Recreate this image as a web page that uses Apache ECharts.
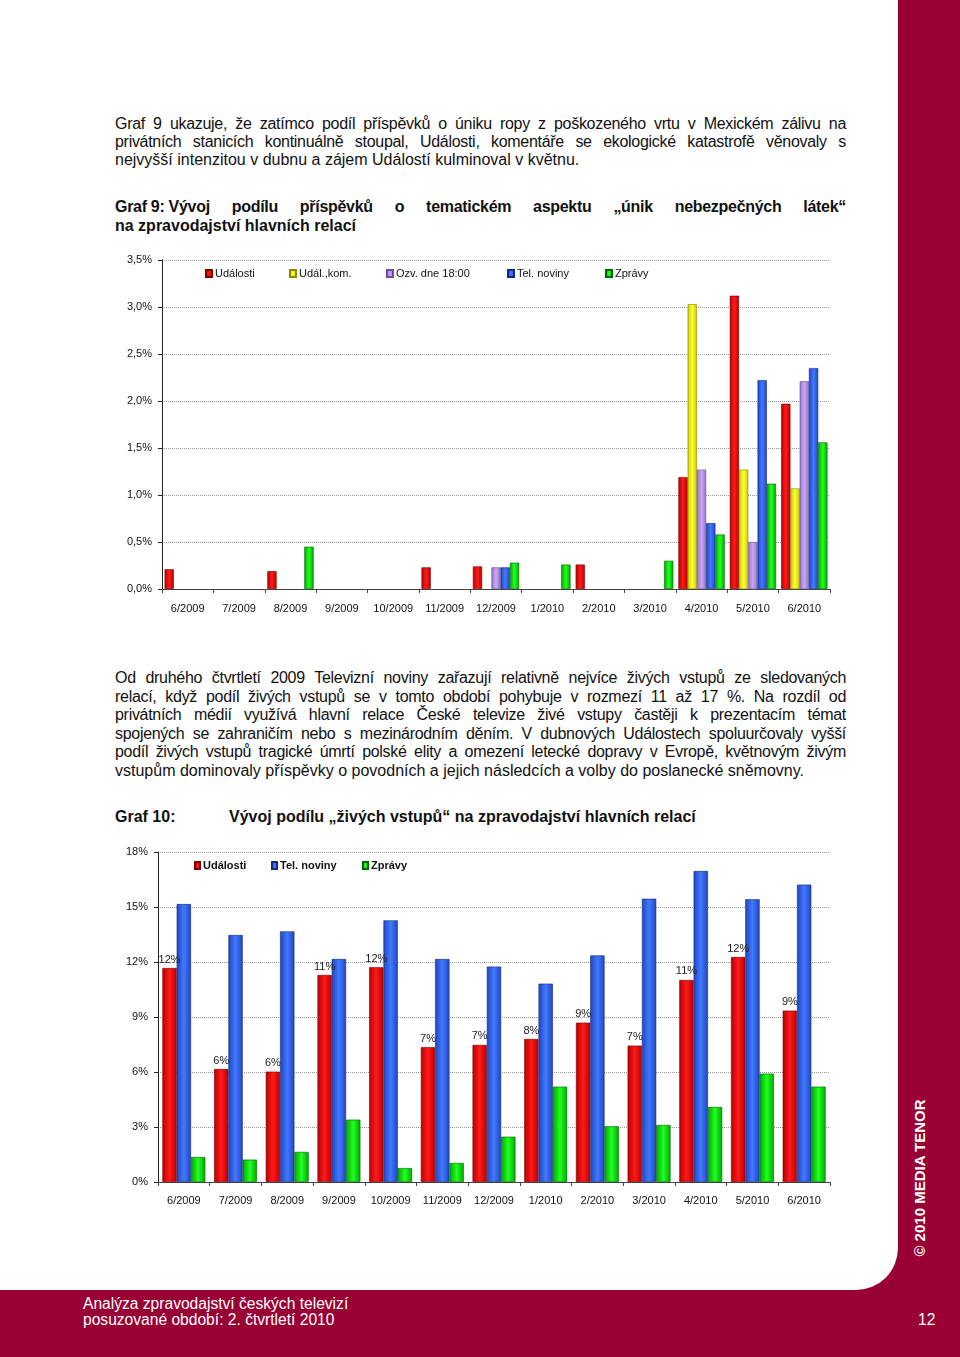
<!DOCTYPE html>
<html><head><meta charset="utf-8">
<script src="https://cdn.jsdelivr.net/npm/echarts@6/dist/echarts.min.js"></script>
<style>
html,body{margin:0;padding:0;}
body{width:960px;height:1357px;position:relative;background:#990033;overflow:hidden;font-family:Arial,"Liberation Sans",sans-serif;}
#page{position:absolute;left:0;top:0;width:898px;height:1290px;background:#fff;border-bottom-right-radius:42px;}
.ln{position:absolute;left:115px;width:731px;font-size:16px;line-height:18px;color:#111;white-space:nowrap;}
.j{text-align:justify;text-align-last:justify;white-space:normal;letter-spacing:-0.3px;}
.b{font-weight:bold;}
.nb{display:inline-block;white-space:nowrap;text-align:left;text-align-last:left;}
#c1{position:absolute;left:0;top:240px;width:898px;height:390px;}
#c2{position:absolute;left:0;top:835px;width:898px;height:380px;}
.foot{position:absolute;color:#fff;font-family:Arial,"Liberation Sans",sans-serif;font-size:15.6px;line-height:16px;}
#copy{position:absolute;left:919px;top:1178px;transform:translate(-50%,-50%) rotate(-90deg);white-space:nowrap;color:#fff;font-family:Arial,"Liberation Sans",sans-serif;font-weight:bold;font-size:15px;}
</style></head>
<body>
<div id="page"></div>
<div class="ln j" style="top:115px">Graf 9 ukazuje, že zatímco podíl příspěvků o úniku ropy z poškozeného vrtu v Mexickém zálivu na</div>
<div class="ln j" style="top:133px">privátních stanicích kontinuálně stoupal, Události, komentáře se ekologické katastrofě věnovaly s</div>
<div class="ln" style="top:151px">nejvyšší intenzitou v dubnu a zájem Událostí kulminoval v květnu.</div>
<div class="ln j b" style="top:198px"><span class="nb">Graf 9: Vývoj</span> podílu příspěvků o tematickém aspektu „únik nebezpečných látek“</div>
<div class="ln b" style="top:217px">na zpravodajství hlavních relací</div>
<div id="c1"></div>
<div class="ln j" style="top:669px">Od druhého čtvrtletí 2009 Televizní noviny zařazují relativně nejvíce živých vstupů ze sledovaných</div>
<div class="ln j" style="top:688px">relací, když podíl živých vstupů se v tomto období pohybuje v rozmezí 11 až 17 %. Na rozdíl od</div>
<div class="ln j" style="top:706px">privátních médií využívá hlavní relace České televize živé vstupy častěji k prezentacím témat</div>
<div class="ln j" style="top:725px">spojených se zahraničím nebo s mezinárodním děním. V dubnových Událostech spoluurčovaly vyšší</div>
<div class="ln j" style="top:743px">podíl živých vstupů tragické úmrtí polské elity a omezení letecké dopravy v Evropě, květnovým živým</div>
<div class="ln" style="top:762px">vstupům dominovaly příspěvky o povodních a jejich následcích a volby do poslanecké sněmovny.</div>
<div class="ln b" style="top:808px">Graf 10:</div>
<div class="ln b" style="top:808px;left:229px;width:auto">Vývoj podílu „živých vstupů“ na zpravodajství hlavních relací</div>
<div id="c2"></div>
<div class="foot" style="left:83px;top:1296px">Analýza zpravodajství českých televizí</div>
<div class="foot" style="left:83px;top:1312px">posuzované období: 2. čtvrtletí 2010</div>
<div class="foot" style="left:918px;top:1312px">12</div>
<div id="copy">© 2010 MEDIA TENOR</div>
<script>
// ---- data ----
var categories = ['6/2009','7/2009','8/2009','9/2009','10/2009','11/2009','12/2009','1/2010','2/2010','3/2010','4/2010','5/2010','6/2010'];
// Graf 9 (%)
var udalosti1 = [0.21,0,0.19,0,0,0.23,0.24,0,0.26,0,1.19,3.12,1.97];
var udalKom1  = [0,0,0,0,0,0,0,0,0,0,3.03,1.27,1.07];
var ozvDne1   = [0,0,0,0,0,0,0.23,0,0,0,1.27,0.50,2.21];
var telNov1   = [0,0,0,0,0,0,0.23,0,0,0,0.70,2.22,2.35];
var zpravy1   = [0,0,0.45,0,0,0,0.28,0.26,0,0.30,0.58,1.12,1.56];
// Graf 10 (%)
var udalosti2 = [11.67,6.16,6.02,11.29,11.71,7.35,7.48,7.80,8.69,7.44,11.02,12.27,9.35];
var telNov2   = [15.16,13.47,13.67,12.16,14.27,12.16,11.75,10.82,12.36,15.45,16.96,15.42,16.22];
var zpravy2   = [1.36,1.22,1.64,3.40,0.76,1.04,2.47,5.20,3.04,3.11,4.09,5.91,5.20];

function grad(dark, light){
  return new echarts.graphic.LinearGradient(0,0,1,0,[
    {offset:0,color:dark},{offset:0.5,color:light},{offset:1,color:dark}]);
}
var C = {
  red: grad('#b80000','#ff1a1a'),
  yellow: grad('#c8c800','#ffff33'),
  purple: grad('#9070c4','#c9aaf2'),
  blue: grad('#1f45c0','#4279ff'),
  green: grad('#00a800','#22ff22')
};
var B = {red:'#7a0000',yellow:'#8a8a00',purple:'#6a50a0',blue:'#102a80',green:'#006600'};
var txt = {fontFamily:'Arial, "Liberation Sans", sans-serif', fontSize:11, color:'#111'};

function bar(name, data, key, extra){
  var items = data.map(function(v){
    return v === 0 ? {value:v, itemStyle:{borderWidth:0}} : v;
  });
  var s = {name:name, type:'bar', data:items, barGap:0,
    itemStyle:{color:C[key], borderColor:B[key], borderWidth:0.6},
    emphasis:{disabled:true}};
  for (var k in extra) s[k]=extra[k];
  return s;
}
function leg(name, left, top, bold, iw){
  return {data:[name], left:left, top:top, padding:0, itemWidth:iw, itemHeight:7, itemGap:0,
    icon:'rect', selectedMode:false,
    textStyle:{fontFamily:'Arial, "Liberation Sans", sans-serif', fontSize:11, color:'#111', fontWeight:bold?'bold':'normal', padding:[0,0,0,-2]}};
}

var ch1 = echarts.init(document.getElementById('c1'), null, {renderer:'canvas'});
ch1.setOption({
  animation:false,
  grid:{left:162, top:20, width:668, height:329, containLabel:false},
  legend:[
    leg('Události',205,28,false,6),
    leg('Udál.,kom.',289,28,false,6),
    leg('Ozv. dne 18:00',386,28,false,6),
    leg('Tel. noviny',507,28,false,6),
    leg('Zprávy',605,28,false,6)
  ],
  xAxis:{type:'category', data:categories,
    axisLine:{lineStyle:{color:'#444',width:1}},
    axisTick:{show:true,length:4,lineStyle:{color:'#444'}},
    axisLabel:Object.assign({margin:14, interval:0}, txt),
    splitLine:{show:false}},
  yAxis:{type:'value', min:0, max:3.5, interval:0.5,
    axisLine:{show:true, lineStyle:{color:'#222',width:1}},
    axisTick:{show:true,length:4,lineStyle:{color:'#222'}},
    axisLabel:Object.assign({margin:10, formatter:function(v){return v.toFixed(1).replace('.',',')+'%';}}, txt),
    splitLine:{show:true, lineStyle:{type:'dotted', color:'#999', width:1}}},
  series:[
    bar('Události', udalosti1, 'red', {barCategoryGap:'10%'}),
    bar('Udál.,kom.', udalKom1, 'yellow', {}),
    bar('Ozv. dne 18:00', ozvDne1, 'purple', {}),
    bar('Tel. noviny', telNov1, 'blue', {}),
    bar('Zprávy', zpravy1, 'green', {})
  ]
});

var ch2 = echarts.init(document.getElementById('c2'), null, {renderer:'canvas'});
ch2.setOption({
  animation:false,
  grid:{left:158, top:17, width:672, height:330, containLabel:false},
  legend:[
    leg('Události',194,25,true,5),
    leg('Tel. noviny',271,25,true,5),
    leg('Zprávy',362,25,true,5)
  ],
  xAxis:{type:'category', data:categories,
    axisLine:{lineStyle:{color:'#444',width:1}},
    axisTick:{show:true,length:4,lineStyle:{color:'#444'}},
    axisLabel:Object.assign({margin:13, interval:0}, txt),
    splitLine:{show:false}},
  yAxis:{type:'value', min:0, max:18, interval:3,
    axisLine:{show:true, lineStyle:{color:'#222',width:1}},
    axisTick:{show:true,length:4,lineStyle:{color:'#222'}},
    axisLabel:Object.assign({margin:10, formatter:function(v){return v+'%';}}, txt),
    splitLine:{show:true, lineStyle:{type:'dotted', color:'#999', width:1}}},
  series:[
    bar('Události', udalosti2, 'red', {barCategoryGap:'17%',
      label:{show:true, position:'top', distance:3, fontFamily:'Arial, "Liberation Sans", sans-serif', fontSize:11, color:'#222',
        formatter:function(p){return Math.round(p.value)+'%';}}}),
    bar('Tel. noviny', telNov2, 'blue', {}),
    bar('Zprávy', zpravy2, 'green', {})
  ]
});
</script>
</body></html>
